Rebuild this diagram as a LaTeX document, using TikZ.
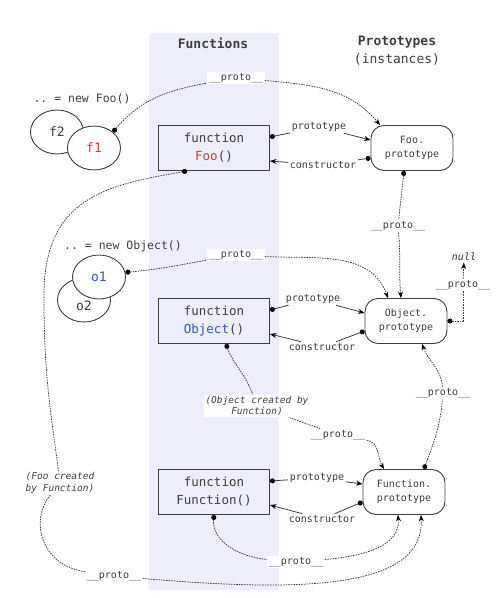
\documentclass[tikz,border=0pt]{standalone}
\usepackage{fontspec}
\setmonofont{DejaVu Sans Mono}
\usetikzlibrary{arrows.meta,shapes.geometric}
\definecolor{bandblue}{RGB}{238,238,251}
\definecolor{fooRed}{RGB}{210,62,62}
\definecolor{objBlue}{RGB}{58,82,190}
\definecolor{nullbg}{RGB}{252,244,240}
\definecolor{ink}{RGB}{62,62,62}

\begin{document}
\begin{tikzpicture}[x=1pt,y=1pt,
    font=\ttfamily, text=ink,
    fbox/.style={draw=ink, line width=0.9pt, minimum width=111, minimum height=45, align=center,
        font=\ttfamily\fontsize{12.5}{18}\selectfont},
    pbox/.style={draw=ink, line width=0.9pt, rounded corners=13, minimum width=82, minimum height=45,
        align=center, font=\ttfamily\fontsize{10}{14}\selectfont},
    inst/.style={ellipse, draw=ink, line width=0.9pt, fill=white, minimum width=53, minimum height=44,
        font=\ttfamily\fontsize{13}{15}\selectfont},
    lbl/.style={fill=white, inner sep=1.5, font=\ttfamily\fontsize{10}{12}\selectfont},
    note/.style={fill=white, inner sep=1.5, align=center, font=\ttfamily\itshape\fontsize{9.5}{11.5}\selectfont},
    dline/.style={ink, line width=0.75pt, dash pattern=on 1.6pt off 1pt},
    from/.style={dline, {Circle[length=5pt,color=black]}-},
    into/.style={dline, -{Stealth[length=6.5pt,width=5pt,color=black]}},
    pfrom/.style={ink, line width=0.8pt, {Circle[length=5pt,color=black]}-},
    pinto/.style={ink, line width=0.8pt, -{Stealth[length=6.5pt,width=5pt,color=black]}},
]
    % page and the band of the functions
    \useasboundingbox (0,0) rectangle (500,-598);
    \fill[bandblue] (149,-33) rectangle (279,-590);
    \def\pr{\_\_proto\_\_}

    % titles
    \node[font=\ttfamily\bfseries\fontsize{13}{18}\selectfont] (ftitle) at (213,-43) {Functions};
    \node[align=center, font=\ttfamily\fontsize{13}{18}\selectfont] (ptitle) at (397,-51)
        {\textbf{Prototypes}\\(instances)};

    % functions and their prototypes
    \node[fbox] (foo) at (214,-148) {function\\\textcolor{fooRed}{Foo}()};
    \node[fbox] (obj) at (214,-321) {function\\\textcolor{objBlue}{Object}()};
    \node[fbox] (fun) at (214,-492) {function\\Function()};
    \node[pbox] (foopro) at (412,-148) {Foo.\\prototype};
    \node[pbox] (objpro) at (406,-321) {Object.\\prototype};
    \node[pbox] (funpro) at (404,-492) {Function.\\prototype};

    % instances
    \node[font=\ttfamily\fontsize{11.5}{14}\selectfont] (newfoo) at (82,-99) {.. = new Foo()};
    \node[inst] (f2) at (57,-132) {f2};
    \node[inst] (f1) at (94,-148) {\textcolor{fooRed}{f1}};
    \node[font=\ttfamily\fontsize{11.5}{14}\selectfont] (newobj) at (123,-246) {.. = new Object()};
    \node[inst] (o2) at (84,-300) {\raisebox{-10.5pt}[0pt][0pt]{o2}};
    \node[inst] (o1) at (99,-277) {\textcolor{objBlue}{o1}};

    % labels on the links
    \node[lbl] (p1) at (236,-78) {\pr};
    \node[lbl] (p2) at (236,-255) {\pr};
    \node[lbl] (p3) at (398,-226) {\pr};
    \node[lbl] (p4) at (463,-285) {\pr};
    \node[lbl] (p5) at (443,-393) {\pr};
    \node[lbl] (p6) at (338,-435) {\pr};
    \node[lbl] (p7) at (296,-562) {\pr};
    \node[lbl] (p8) at (114,-576) {\pr};
    \node[lbl, fill=nullbg, font=\ttfamily\itshape\fontsize{10}{12}\selectfont] (nul) at (464,-257) {null};
    \node[note] (objby) at (257,-406) {(Object created by\\Function)};
    \node[note] (fooby) at (60,-483) {(Foo created\\by Function)};
    \node[lbl] (pt1) at (319,-127) {prototype};
    \node[lbl] (ct1) at (323,-165) {constructor};
    \node[lbl] (pt2) at (313,-299) {prototype};
    \node[lbl] (ct2) at (322,-347) {constructor};
    \node[lbl] (pt3) at (317,-478) {prototype};
    \node[lbl] (ct3) at (322,-519) {constructor};

    % prototype and constructor
    \foreach \fn/\pn/\i in {foo/foopro/1, obj/objpro/2, fun/funpro/3}{
        \draw[pfrom] ([yshift=11]\fn.east) -- (pt\i);
        \draw[pinto] (pt\i) -- ([yshift=8]\pn.west);
        \draw[pfrom] ([yshift=-10]\pn.west) -- (ct\i);
        \draw[pinto] (ct\i) -- ([yshift=-13]\fn.east);
    }

    % __proto__ chains
    \draw[from] (f1.40) to[out=50,in=190] (p1);
    \draw[into] (p1) to[out=-5,in=130] ([xshift=-32]foopro.north);
    \draw[from] (o1.10) to[out=5,in=190] (p2);
    \draw[into] (p2) to[out=-3,in=110] ([xshift=-18]objpro.north);
    \draw[from] ([xshift=-8]foopro.south) -- (p3);
    \draw[into] (p3) to[out=-85,in=95] ([xshift=-5]objpro.north);
    \draw[from] (objpro.east) -| (p4);
    \draw[into] (p4) -- (nul);
    \draw[from] ([xshift=20]funpro.north) to[out=70,in=-95] (p5);
    \draw[into] (p5) to[out=95,in=-70] ([xshift=16]objpro.south);
    \draw[from] ([xshift=12]obj.south) to[out=-70,in=110] (objby);
    \draw[dline] (objby) -- (p6);
    \draw[into] (p6) to[out=-10,in=120] ([xshift=-20]funpro.north);
    \draw[from] (fun.south) to[out=-95,in=175] (p7);
    \draw[into] (p7) to[out=5,in=-85] ([xshift=-6]funpro.south);
    \draw[from] ([xshift=-27]foo.south) .. controls (110,-185) and (42,-195) .. (44,-300)
        .. controls (44,-380) and (52,-420) .. (fooby);
    \draw[dline] (fooby) .. controls (30,-520) and (40,-565) .. (p8);
    \draw[into] (p8) .. controls (300,-592) and (425,-590) .. ([xshift=17]funpro.south);
\end{tikzpicture}
\end{document}
